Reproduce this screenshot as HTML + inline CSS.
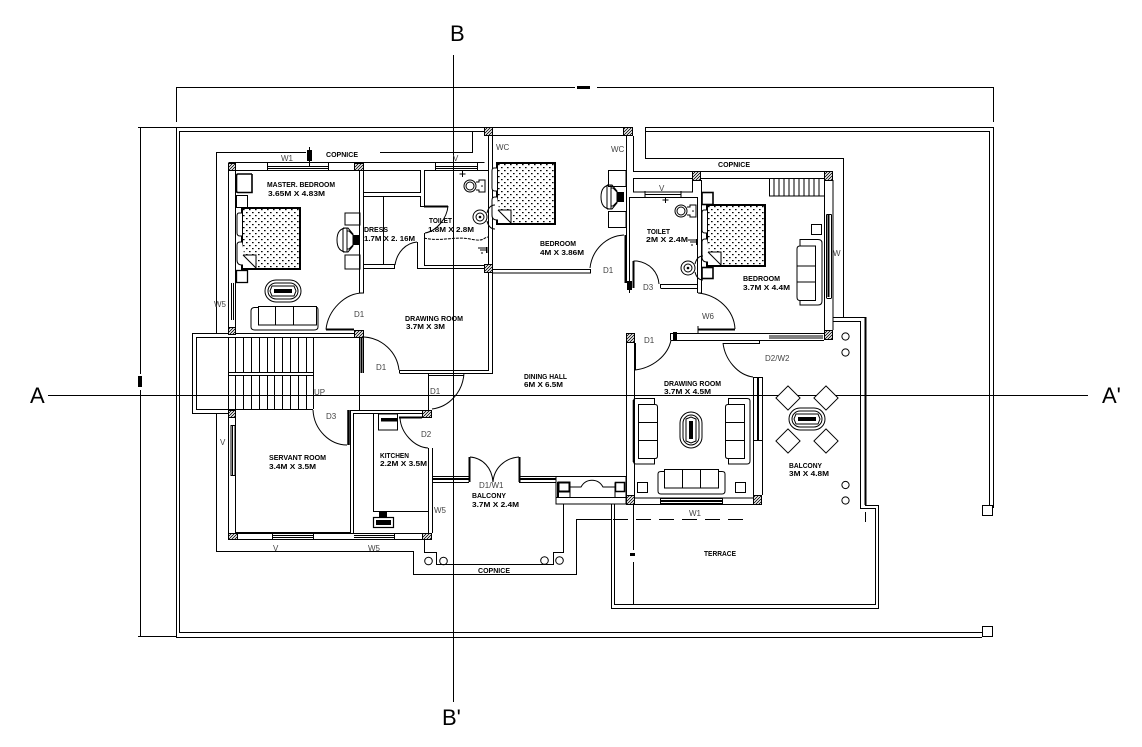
<!DOCTYPE html>
<html><head><meta charset="utf-8"><style>
html,body{margin:0;padding:0;background:#fff}
svg{display:block}
.b{font:bold 7.2px "Liberation Sans",sans-serif;fill:#000}
.g{font:8px "Liberation Sans",sans-serif;fill:#444}
.t{font:22px "Liberation Sans",sans-serif;fill:#000}
</style></head><body>
<svg width="1142" height="747" viewBox="0 0 1142 747" xmlns="http://www.w3.org/2000/svg">
<defs>
<pattern id="h" width="3" height="3" patternUnits="userSpaceOnUse"><rect width="3" height="3" fill="#fff"/><path d="M0 3L3 0M-1 1L1 -1M2 4L4 2" stroke="#000" stroke-width=".8"/></pattern>
<pattern id="d" width="6" height="6" patternUnits="userSpaceOnUse"><rect width="6" height="6" fill="#fff"/><rect x="1" y="1" width="1.6" height="1.2" fill="#000"/><rect x="4" y="4" width="1.6" height="1.2" fill="#000"/></pattern>
<g id="bed"><rect x="0" y="0" width="58" height="61" fill="url(#d)" stroke="#000" stroke-width="2"/><path d="M0 5H-3Q-5 5 -5 8V25Q-5 28 -2 28H0M0 34H-2Q-5 34 -5 37V52Q-5 57 0 57H4" fill="#fff" stroke="#000"/><path d="M1 47H14V60H1Z" fill="#fff" stroke="none"/><path d="M1 47H14V60M1 47L14 60" fill="none" stroke="#000"/></g>
<g id="wc"><circle r="6" fill="none" stroke="#000"/><circle r="4" fill="none" stroke="#000"/><path d="M6 -4H9V-6H15V6H9V4H6" fill="none" stroke="#000"/><circle cx="12" cy="0" r=".8"/></g>
<g id="sink"><circle r="7" fill="none" stroke="#000"/><circle r="4" fill="none" stroke="#000"/><circle r="1.3"/><path d="M7 -4Q9 -12 15 -12M7 4Q9 12 15 12" fill="none" stroke="#000"/></g>
<g id="tbl"><rect x="-18" y="-11" width="36" height="22" rx="11" fill="none" stroke="#000"/><rect x="-15" y="-8" width="30" height="16" rx="8" fill="none" stroke="#000"/><path d="M-11 -5H11L13 0L11 5H-11L-13 0Z" fill="none" stroke="#000"/><rect x="-9" y="-2" width="18" height="4"/></g>
<g id="chair"><rect x="-9" y="-9" width="18" height="18" fill="#fff" stroke="#000"/></g>
<g id="tv"><path d="M-4 -12Q-14 -12 -14 0Q-14 12 -4 12M-8 -12V12M-4 -12V12M-8 -12H-3L2 -6V6L-3 12H-8M-4 -9H-2L2 -5M-4 9H-2L2 5" fill="none" stroke="#000"/><rect x="2" y="-5" width="7" height="10"/></g>
<g id="tap"><path d="M-5 -2H3M-3 0H3M-1 2V4" fill="none" stroke="#000"/><rect x="3" y="-3" width="1.5" height="6"/></g>
</defs>
<rect width="1142" height="747" fill="#fff"/>

<g fill="none" stroke="#000" stroke-width="1">
<!-- section lines -->
<path d="M48 395.5H1088M453.5 55V702"/>
<!-- dimensions -->
<path d="M176 87.5H575M597 87.5H993M176.5 87V122M993.5 87V122"/>
<path d="M140.5 128V374M140.5 390V636M138 127.5H176M138 636.5H176"/>
<!-- parapet -->
<path d="M484 127.5H176.5V637.5H982M484 131.5H179.5V632.5H982M645 127.5H993.5V508M645 131.5H989.5V505"/>
<rect x="982.5" y="505.5" width="10" height="10"/><rect x="982.5" y="626.5" width="10" height="10"/>

<!-- cornice -->
<path d="M306 152.5H216.5V333M380 152.5H472.5V131M216.5 413V551.5H413.5V574.5H576.5V519.5H611"/>
<path d="M645.5 127V158.5H843.5V317"/>
<path d="M833 321.5H860.5V508.5H875.5V604.5H614.5V504M833 317.5H865.5V505.5H878.5V608.5H611.5V504"/>
<path d="M865.5 317V505" stroke-width="2"/>
<path d="M865.5 512V522"/>
<path d="M613 519.5H744" stroke-dasharray="15 8"/>
<path d="M633.5 504V550M633.5 562V604"/>
<path d="M309.5 147V167"/>

<!-- top walls left -->
<path d="M228.5 162.5H484.5M235.5 170.5H354M363 170.5H420M424 170.5H488.5"/>
<path d="M228.5 163V333M235.5 170V333"/>
<path d="M267.5 163V170M328.5 163V170M267.5 166.5H328.5M267.5 168.5H328.5"/>
<path d="M435 166.5H477M435 168.5H477M435.5 163V170M477.5 163V170"/>
<path d="M231.5 283V320M233.5 283V320" />
<!-- master/dress partition -->
<path d="M359.5 170V293H363.5V170"/>
<path d="M326 329.5C328 310 345 293 363 293"/>
<path d="M326 329.5H354" stroke-width="2"/>
<rect x="363.5" y="170.5" width="57" height="22"/>
<path d="M363.5 196.5H420.5V206.5H424"/>
<path d="M383.5 197V265M363.5 264.5H395M363.5 268.5H394.5V265"/>
<path d="M395 265C397 252 406 243 417 242"/>
<path d="M417.5 242V268.5M424.5 233V265M424.5 170V206"/>
<path d="M424 206.5H448" stroke-width="2"/>
<path d="M448 206C447 218 437 231 425 233"/>
<path d="M424 265.5H484M417 268.5H484"/>
<path d="M424 238C440 242 455 236 470 239S482 238 488 237" stroke-dasharray="3 1"/>
<path d="M488.5 136V264M492.5 136V264"/>
<!-- mid bedroom -->
<path d="M484 127.5H633M493 135.5H623"/>
<path d="M493 269.5H590.5V273H493M492.5 272V373.5H399.5M488.5 272V370.5H399.5V373"/>
<path d="M590 268C592 250 606 236 624 235"/>
<path d="M626.5 136V283M633.5 136V171"/>
<path d="M625.5 235V283" stroke-width="2"/>
<!-- right top block -->
<path d="M633 171.5H692M701 171.5H824M701 178.5H824M833 180V330M824.5 180V330"/>
<rect x="633.5" y="178.5" width="59" height="13.5"/>
<path d="M629.5 197.5H697.5V293M701.5 180V293H698M629.5 197V284"/>
<path d="M645 194.5H681M645 197V191M681 197V191"/>
<path d="M826.5 214.5V298M831.5 214.5V298M826.5 214.5H831.5M826.5 298.5H831.5"/>
<path d="M828.5 215V297" stroke-width="2"/>
<path d="M633.5 261H637M637 261C650 263 658 272 659 284"/>
<path d="M633.5 261V288" stroke-width="2"/>
<path d="M660.5 284.5H697M660.5 288.5H697M660.5 284V288"/>
<path d="M698 293C718 295 734 310 735 329"/>
<path d="M698 329.5H735" stroke-width="2"/>
<path d="M698 326V333M670.5 333.5H824M670.5 340.5H824M670.5 333V340"/>
<path d="M769 336H823M769 338H823"/>
<path d="M723 343.5H759.5V340"/>
<path d="M723 343C725 360 738 375 753 377"/>
<path d="M753.5 377V495M762.5 377V495M753.5 377.5H762.5M753.5 440.5H762.5"/>
<path d="M758 378V440" stroke-width="2"/>
<path d="M629.5 278V293"/>
<!-- stair -->
<path d="M360 333.5H192.5V413.5H228M360 337.5H196.5V409.5H313"/>
<path d="M228 372.5H313.5M228 375.5H313.5M313.5 337V409"/>
<path d="M235.5 337V372M243.5 337V372M251.5 337V372M259.5 337V372M267.5 337V372M274.5 337V372M282.5 337V372M290.5 337V372M298.5 337V372M306.5 337V372"/>
<path d="M235.5 376V409M243.5 376V409M251.5 376V409M259.5 376V409M267.5 376V409M274.5 376V409M282.5 376V409M290.5 376V409M298.5 376V409M306.5 376V409"/>
<path d="M228.5 337V409M359.5 337V410M363.5 337V373"/>
<path d="M361.5 337V373" stroke-width="2"/>
<path d="M364 337C382 338 397 352 399 370"/>
<!-- servant/kitchen -->
<path d="M228.5 413V533M235.5 418V533M228 533.5H422M228 539.5H422"/>
<path d="M231 425.5H235V475.5H231ZM232.5 426V475"/>
<path d="M272 537.5H313M272 535.5H313M272.5 533V539M313.5 533V539M354 537.5H394M354 535.5H394M394.5 533V539"/>
<path d="M235.5 532.5H350.5V410.5H422M353.5 533V413.5H422"/>
<path d="M313 410C314 430 330 445 347 445"/>
<path d="M348.5 410V445" stroke-width="2.5"/>
<path d="M373.5 414V511.5H428"/>
<rect x="378.5" y="414" width="19" height="16"/>
<rect x="381" y="418" width="16" height="3.5" fill="#000" stroke="none"/>
<rect x="373.5" y="517.5" width="20" height="10" stroke-width="1.2"/>
<rect x="376" y="520" width="15" height="5" fill="#000" stroke="none"/>
<rect x="379" y="512" width="8" height="5" fill="#000" stroke="none"/>
<path d="M399 417.5H422" stroke-width="2"/>
<path d="M400 418C401 433 414 447 428 448"/>
<path d="M428.5 373V410M428.5 448V533M432.5 448V533M428 373.5H464M428 375.5H464"/>
<path d="M464 373C463 392 449 407 432 409"/>
<path d="M432 476.5H469M432 482.5H469"/>
<path d="M432 479H469" stroke-width="2"/>
<path d="M469.5 457V482" stroke-width="2"/>
<path d="M519.5 457V482" stroke-width="2"/>
<path d="M470 457C483 458 492 468 493 482M519 457C505 458 494 468 493 482"/>
<path d="M519 476.5H556M519 482.5H556"/>
<path d="M519 479H556" stroke-width="2"/>
<!-- balcony lower -->
<path d="M424.5 539V552.5H436.5V564.5H553.5V552.5H563.5V504"/>
<circle cx="428.5" cy="561" r="3.8"/><circle cx="443.5" cy="561" r="3.8"/><circle cx="544.5" cy="560.5" r="3.8"/><circle cx="559.5" cy="560.5" r="3.8"/>
<rect x="556" y="476.5" width="70" height="27.5"/>
<path d="M556 497.5H626M570 482.5V497M615 482.5V497"/>
<rect x="558.5" y="482.5" width="11" height="9" stroke-width="2"/>
<rect x="615.5" y="482.5" width="9" height="9" stroke-width="1.5"/>
<path d="M570 487H581C586 478 598 478 603 487H615"/>
<path d="M558 482V497" stroke-width="2"/>
<!-- drawing right -->
<path d="M626.5 333V504M634.5 343V504M626 504.5H762M634 498H753"/>
<path d="M660 498.5H723M660 503.5H723M660.5 498V504M722.5 498V504"/>
<path d="M660 501H723" stroke-width="2"/>
<path d="M635 343V370" stroke-width="2"/>
<path d="M635 370C652 368 668 356 671 340"/>
<!-- furniture sofas -->
<path d="M654.5 404V398.5H636Q633.5 398.5 633.5 401V461Q633.5 464 636 464H654.5V458"/>
<path d="M633.5 400V462" stroke-width="1.6"/>
<path d="M638.5 404.5H655Q657.5 404.5 657.5 407V456Q657.5 458.5 655 458.5H638.5ZM638.5 422.5H657M638.5 440.5H657"/>
<path d="M728.5 404V398.5H747Q750 398.5 750 401V461Q750 464 747 464H728.5V458"/>
<path d="M744.5 404.5H728Q725.5 404.5 725.5 407V456Q725.5 458.5 728 458.5H744.5ZM726 422.5H744M726 440.5H744"/>
<path d="M664.5 469.5H718.5V488H664.5ZM682.5 470V488M700.5 470V488"/>
<path d="M664 471.5H661Q658 471.5 658 474V491Q658 494 661 494H722Q725 494 725 491V474Q725 471.5 722 471.5H718.5"/>
<rect x="637.5" y="482.5" width="10" height="10"/><rect x="735.5" y="482.5" width="10" height="10"/>
<!-- master sofa -->
<path d="M258.5 306.5H316.5V325H258.5ZM275.5 306.5V325M293.5 306.5V325"/>
<path d="M258 307.5H254Q251 308 251 311V327Q251 330 255 330H314Q318 330 318 327V310Q318 307 316 307.5"/>
<!-- bedroom 3 sofa -->
<path d="M815.5 246H800Q797 246 797 249V297Q797 300.5 800 300.5H815.5V246ZM797 266H815M797 282H815"/>
<path d="M800 246V239.5H818Q822 239.5 822 243V301Q822 305 818 305H800V300"/>
<rect x="811.5" y="224.5" width="10" height="10"/>
<!-- treads right top -->
<path d="M769.5 179V196H824M774 179V196M779 179V196M784 179V196M789 179V196M794 179V196M799 179V196M804 179V196M809 179V196M814 179V196M819 179V196"/>
<!-- bed side tables -->
<rect x="236.5" y="195.5" width="11" height="12"/>
<rect x="236.5" y="270.5" width="11" height="12" stroke-width="1.3"/>
<path d="M252 174H238Q236.5 174 236.5 176V191Q236.5 192.5 238 192.5H252V174" stroke-width="1.6"/>
<rect x="345" y="213" width="15" height="12"/>
<rect x="345" y="255" width="15" height="14"/>
<rect x="702" y="192.5" width="11" height="12" stroke-width="1.6"/>
<rect x="702" y="267.5" width="11" height="11" stroke-width="1.6"/>
<rect x="608.5" y="170.5" width="17.5" height="16"/>
<rect x="608.5" y="211.5" width="17.5" height="16"/>
</g>

<!-- hatched columns -->
<g fill="url(#h)" stroke="#000" stroke-width="1">
<rect x="228.5" y="163.5" width="7" height="7"/>
<rect x="354.5" y="163.5" width="9" height="7"/>
<rect x="228.5" y="327.5" width="7" height="7"/>
<rect x="354.5" y="330.5" width="9" height="7"/>
<rect x="484.5" y="127.5" width="8" height="8"/>
<rect x="484.5" y="264.5" width="8" height="8"/>
<rect x="623.5" y="127.5" width="9" height="8"/>
<rect x="692.5" y="171.5" width="8" height="9"/>
<rect x="824.5" y="171.5" width="8" height="9"/>
<rect x="824.5" y="330.5" width="8" height="9"/>
<rect x="626.5" y="333.5" width="8" height="9"/>
<rect x="228.5" y="410.5" width="7" height="7"/>
<rect x="422.5" y="410.5" width="9" height="7"/>
<rect x="228.5" y="533.5" width="9" height="6"/>
<rect x="422.5" y="533.5" width="9" height="6"/>
<rect x="626.5" y="495.5" width="8" height="9"/>
<rect x="753.5" y="495.5" width="8" height="9"/>
</g>

<use href="#bed" x="242" y="208"/>
<use href="#bed" x="497" y="163"/>
<use href="#bed" x="707" y="205"/>
<use href="#wc" x="470" y="186"/>
<use href="#wc" x="681" y="211"/>
<use href="#sink" x="480" y="217"/>
<use href="#sink" x="688" y="268"/>
<use href="#tap" x="483" y="250"/>
<use href="#tap" x="693" y="242"/>
<path d="M462.5 171V177M459.5 174H465.5M665.5 197V203M662.5 200H668.5" stroke="#000" fill="none"/>
<use href="#tv" x="351" y="240"/>
<use href="#tv" x="615" y="197"/>
<use href="#tbl" x="283" y="291"/>
<use href="#tbl" transform="translate(691,430) rotate(90)"/>
<use href="#tbl" x="807" y="419"/>
<use href="#chair" transform="translate(788,398) rotate(45) scale(.95)"/>
<use href="#chair" transform="translate(826,398) rotate(45) scale(.95)"/>
<use href="#chair" transform="translate(788,441) rotate(45) scale(.95)"/>
<use href="#chair" transform="translate(826,441) rotate(45) scale(.95)"/>
<g fill="#fff" stroke="#000"><circle cx="845.5" cy="336.5" r="3.6"/><circle cx="845.5" cy="352.5" r="3.6"/><circle cx="845.5" cy="485" r="3.6"/><circle cx="845.5" cy="500.5" r="3.6"/></g>

<!-- marks -->
<g fill="#000" stroke="none">
<rect x="307" y="150" width="5" height="11"/>
<rect x="627" y="281" width="5" height="9"/>
<rect x="673" y="332" width="4" height="9"/>
<rect x="577" y="86" width="13" height="3"/>
<rect x="138" y="376" width="4" height="11"/>
<rect x="630" y="553" width="5" height="3"/>
</g>

<!-- labels -->
<g class="b">
<text class="b" x="326" y="157" textLength="32" lengthAdjust="spacingAndGlyphs">COPNICE</text>
<text class="b" x="267" y="187" textLength="68" lengthAdjust="spacingAndGlyphs">MASTER. BEDROOM</text>
<text class="b" x="268" y="196" textLength="57" lengthAdjust="spacingAndGlyphs">3.65M X 4.83M</text>
<text class="b" x="364" y="232" textLength="24" lengthAdjust="spacingAndGlyphs">DRESS</text>
<text class="b" x="364" y="241" textLength="51" lengthAdjust="spacingAndGlyphs">1.7M X 2. 16M</text>
<text class="b" x="429" y="223" textLength="23" lengthAdjust="spacingAndGlyphs">TOILET</text>
<text class="b" x="428" y="232" textLength="46" lengthAdjust="spacingAndGlyphs">1.8M X 2.8M</text>
<text class="b" x="405" y="321" textLength="58" lengthAdjust="spacingAndGlyphs">DRAWING ROOM</text>
<text class="b" x="406" y="329" textLength="39" lengthAdjust="spacingAndGlyphs">3.7M X 3M</text>
<text class="b" x="540" y="246" textLength="36" lengthAdjust="spacingAndGlyphs">BEDROOM</text>
<text class="b" x="540" y="255" textLength="44" lengthAdjust="spacingAndGlyphs">4M X 3.86M</text>
<text class="b" x="647" y="234" textLength="23" lengthAdjust="spacingAndGlyphs">TOILET</text>
<text class="b" x="646" y="242" textLength="42" lengthAdjust="spacingAndGlyphs">2M X 2.4M</text>
<text class="b" x="743" y="281" textLength="37" lengthAdjust="spacingAndGlyphs">BEDROOM</text>
<text class="b" x="743" y="290" textLength="47" lengthAdjust="spacingAndGlyphs">3.7M X 4.4M</text>
<text class="b" x="718" y="167" textLength="32" lengthAdjust="spacingAndGlyphs">COPNICE</text>
<text class="b" x="524" y="379" textLength="43" lengthAdjust="spacingAndGlyphs">DINING HALL</text>
<text class="b" x="524" y="387" textLength="39" lengthAdjust="spacingAndGlyphs">6M X 6.5M</text>
<text class="b" x="664" y="386" textLength="57" lengthAdjust="spacingAndGlyphs">DRAWING ROOM</text>
<text class="b" x="664" y="394" textLength="47" lengthAdjust="spacingAndGlyphs">3.7M X 4.5M</text>
<text class="b" x="269" y="460" textLength="57" lengthAdjust="spacingAndGlyphs">SERVANT ROOM</text>
<text class="b" x="269" y="469" textLength="47" lengthAdjust="spacingAndGlyphs">3.4M X 3.5M</text>
<text class="b" x="380" y="458" textLength="29" lengthAdjust="spacingAndGlyphs">KITCHEN</text>
<text class="b" x="380" y="466" textLength="47" lengthAdjust="spacingAndGlyphs">2.2M X 3.5M</text>
<text class="b" x="472" y="498" textLength="34" lengthAdjust="spacingAndGlyphs">BALCONY</text>
<text class="b" x="472" y="507" textLength="47" lengthAdjust="spacingAndGlyphs">3.7M X 2.4M</text>
<text class="b" x="478" y="573" textLength="32" lengthAdjust="spacingAndGlyphs">COPNICE</text>
<text class="b" x="789" y="468" textLength="33" lengthAdjust="spacingAndGlyphs">BALCONY</text>
<text class="b" x="789" y="476" textLength="40" lengthAdjust="spacingAndGlyphs">3M X 4.8M</text>
<text class="b" x="704" y="556" textLength="32" lengthAdjust="spacingAndGlyphs">TERRACE</text>
</g>
<g class="g">
<text class="g" x="281" y="161">W1</text>
<text class="g" x="453" y="161">V</text>
<text class="g" x="214" y="307">W5</text>
<text class="g" x="354" y="317">D1</text>
<text class="g" x="496" y="150">WC</text>
<text class="g" x="611" y="152">WC</text>
<text class="g" x="603" y="273">D1</text>
<text class="g" x="643" y="290">D3</text>
<text class="g" x="702" y="319">W6</text>
<text class="g" x="644" y="343">D1</text>
<text class="g" x="833" y="256">W</text>
<text class="g" x="659" y="191">V</text>
<text class="g" x="765" y="361">D2/W2</text>
<text class="g" x="376" y="370">D1</text>
<text class="g" x="430" y="394">D1</text>
<text class="g" x="314" y="395">UP</text>
<text class="g" x="326" y="419">D3</text>
<text class="g" x="421" y="437">D2</text>
<text class="g" x="220" y="445">V</text>
<text class="g" x="273" y="551">V</text>
<text class="g" x="368" y="551">W5</text>
<text class="g" x="434" y="513">W5</text>
<text class="g" x="479" y="488">D1/W1</text>
<text class="g" x="689" y="516">W1</text>
</g>
<text class="t" x="450" y="41">B</text>
<text class="t" x="30" y="403">A</text>
<text class="t" x="1102" y="403">A'</text>
<text class="t" x="442" y="725">B'</text>
</svg>
</body></html>
